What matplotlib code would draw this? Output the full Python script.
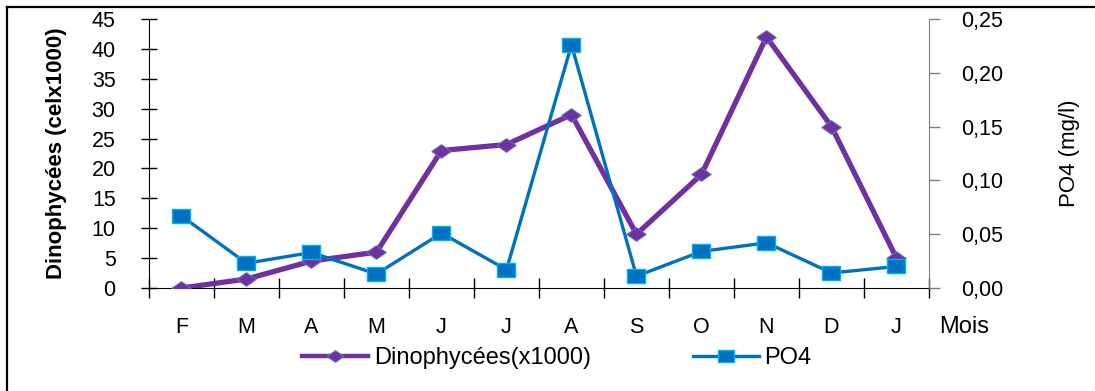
import numpy as np
import matplotlib
matplotlib.use("Agg")
import matplotlib.pyplot as plt
from matplotlib.lines import Line2D

# ---- data ----
months = ["F", "M", "A", "M", "J", "J", "A", "S", "O", "N", "D", "J"]
dino = [0, 1.5, 4.5, 6, 23, 24, 29, 9, 19, 42, 27, 5]
po4 = [0.067, 0.023, 0.033, 0.013, 0.051, 0.017, 0.226, 0.011, 0.034, 0.042, 0.014, 0.020]
left_ticks = [0, 5, 10, 15, 20, 25, 30, 35, 40, 45]
right_ticks = [0.0, 0.05, 0.10, 0.15, 0.20, 0.25]
right_labels = ["0,00", "0,05", "0,10", "0,15", "0,20", "0,25"]

PURPLE = "#7030A0"
BLUE = "#0070C0"
LIGHTBLUE = "#00B0F0"

plt.rcParams["font.family"] = "Liberation Sans"

# wide diamond and wide square markers (Excel style)
diamond = [(-1.0, 0.0), (0.0, 0.7), (1.0, 0.0), (0.0, -0.7), (-1.0, 0.0)]
rect = [(-1.0, -0.75), (1.0, -0.75), (1.0, 0.75), (-1.0, 0.75), (-1.0, -0.75)]

fig = plt.figure(figsize=(10.95, 3.91), dpi=100)
ax = fig.add_axes([149 / 1095, 1 - 288 / 391, (929 - 149) / 1095, (288 - 19) / 391])
ax2 = ax.twinx()

x = np.arange(len(months))
ax.plot(x, dino, color=PURPLE, lw=3.8, marker=diamond, ms=14,
        mfc=PURPLE, mec="#5B6FC8", mew=0.8, zorder=3)
ax2.plot(x, po4, color=BLUE, lw=2.4, marker=rect, ms=13,
         mfc=BLUE, mec=LIGHTBLUE, mew=1.0, zorder=3)

ax.set_xlim(-0.5, 11.5)
ax.set_ylim(0, 45)
ax2.set_ylim(0, 0.25)

ax.set_yticks(left_ticks)
ax.set_yticklabels([str(t) for t in left_ticks], fontsize=15.5)
ax.tick_params(axis="y", direction="inout", length=12, width=1, colors="black", pad=18)

ax.set_xticks(np.arange(-0.5, 12, 1.0))
ax.set_xticklabels([])
ax.set_xticks(x, minor=True)
ax.set_xticklabels(months, minor=True, fontsize=15.5)
ax.tick_params(axis="x", which="major", direction="inout", length=14, width=1, colors="black")
ax.tick_params(axis="x", which="minor", length=0, pad=21)

ax2.set_yticks(right_ticks)
ax2.set_yticklabels(right_labels, fontsize=15.5)
ax2.tick_params(axis="y", direction="out", length=8, width=1, colors="#808080",
                labelcolor="black", pad=15)

for a in (ax, ax2):
    a.spines["top"].set_visible(False)
ax.spines["right"].set_visible(False)
ax2.spines["left"].set_visible(False)
ax2.spines["bottom"].set_visible(False)
ax2.spines["right"].set_color("#808080")

ax.set_ylabel("Dinophycées (celx1000)", fontweight="bold", fontsize=16)
ax.yaxis.set_label_coords(-0.105, 0.5)
ax2.set_ylabel("PO4 (mg/l)", fontsize=16, rotation=90, va="center")
ax2.yaxis.set_label_coords(1.18, 0.5)

fig.text(964 / 1095, 1 - 327 / 391, "Mois", fontsize=17, ha="center", va="center")

handles = [
    Line2D([], [], color=PURPLE, lw=3.2, marker=diamond, ms=12, mfc=PURPLE, mec="#5B6FC8", mew=0.8),
    Line2D([], [], color=BLUE, lw=2.4, marker=rect, ms=11, mfc=BLUE, mec=LIGHTBLUE, mew=1.0),
]
fig.legend(handles, ["Dinophycées(x1000)", "PO4"], loc="center left",
           bbox_to_anchor=(302 / 1095, 1 - 358 / 391), ncol=2, frameon=False,
           fontsize=17, handlelength=2.8, handletextpad=0.25, columnspacing=4.3,
           borderpad=0, borderaxespad=0)

# frame lines on the left and top edge
fig.add_artist(Line2D([7 / 1095, 7 / 1095], [0, 1 - 7 / 391], color="black", lw=1.6,
                      transform=fig.transFigure))
fig.add_artist(Line2D([7 / 1095, 1], [1 - 7 / 391, 1 - 7 / 391], color="black", lw=1.6,
                      transform=fig.transFigure))

fig.savefig("out.png", dpi=100)
